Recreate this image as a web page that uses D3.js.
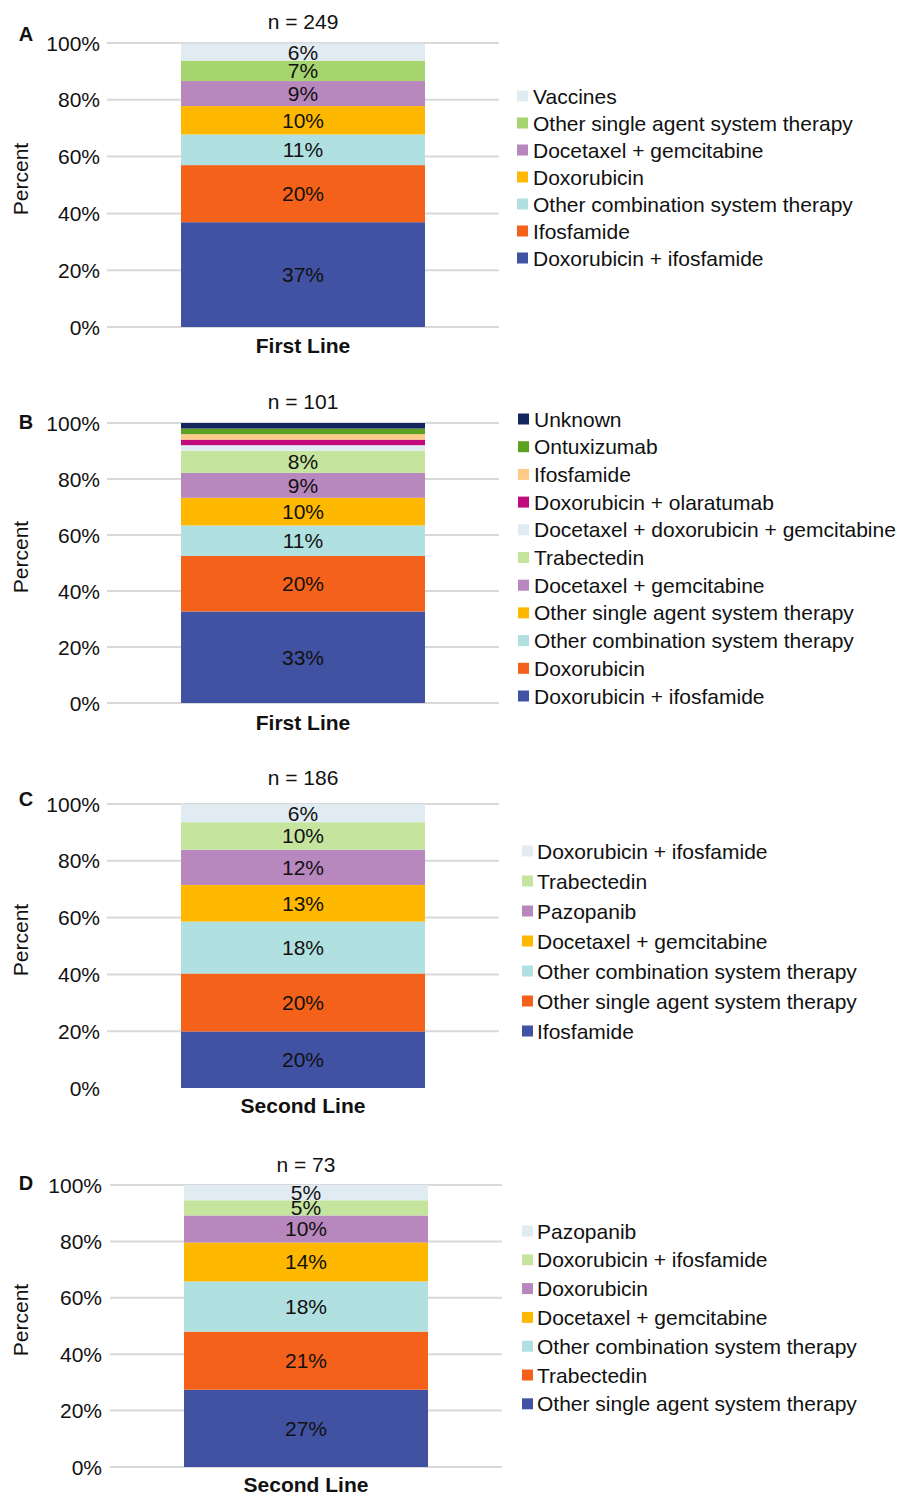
<!DOCTYPE html>
<html>
<head>
<meta charset="utf-8">
<script src="https://cdn.jsdelivr.net/npm/d3@7"></script>
<style>
  html, body { margin: 0; padding: 0; background: #fff; }
  svg text { font-family: "Liberation Sans", Arial, sans-serif; fill: #111; }
</style>
</head>
<body>
<svg id="chart" width="899" height="1495"></svg>
<script>
// Treatment shares (percent), listed from the bottom of each stacked bar upward.
const panelA_categories = ["Doxorubicin + ifosfamide", "Ifosfamide", "Other combination system therapy",
  "Doxorubicin", "Docetaxel + gemcitabine", "Other single agent system therapy", "Vaccines"];
const panelA_values = [36.9, 20.1, 10.8, 10.0, 8.8, 7.2, 6.0];
const panelA_colors = ["#4252a3", "#f4611a", "#b0e0df", "#ffb800", "#b887be", "#a6d46e", "#e1ecf2"];

const panelB_categories = ["Doxorubicin + ifosfamide", "Doxorubicin", "Other combination system therapy",
  "Other single agent system therapy", "Docetaxel + gemcitabine", "Trabectedin",
  "Docetaxel + doxorubicin + gemcitabine", "Doxorubicin + olaratumab", "Ifosfamide", "Ontuxizumab", "Unknown"];
const panelB_values = [32.7, 19.8, 10.9, 9.9, 8.9, 7.9, 1.98, 1.98, 1.98, 1.98, 1.98];
const panelB_colors = ["#4252a3", "#f4611a", "#b0e0df", "#ffb800", "#b887be", "#c5e59f",
  "#e1ecf2", "#c20a7c", "#fdca87", "#5da123", "#15255d"];

const panelC_categories = ["Ifosfamide", "Other single agent system therapy", "Other combination system therapy",
  "Docetaxel + gemcitabine", "Pazopanib", "Trabectedin", "Doxorubicin + ifosfamide"];
const panelC_values = [19.9, 20.4, 18.3, 12.9, 12.4, 9.7, 6.4];
const panelC_colors = ["#4252a3", "#f4611a", "#b0e0df", "#ffb800", "#b887be", "#c5e59f", "#e1ecf2"];

const panelD_categories = ["Other single agent system therapy", "Trabectedin", "Other combination system therapy",
  "Docetaxel + gemcitabine", "Doxorubicin", "Doxorubicin + ifosfamide", "Pazopanib"];
const panelD_values = [27.4, 20.6, 17.8, 13.8, 9.6, 5.4, 5.4];
const panelD_colors = ["#4252a3", "#f4611a", "#b0e0df", "#ffb800", "#b887be", "#c5e59f", "#e1ecf2"];

const panelLetters = ["A", "B", "C", "D"];
const sampleSizes = ["n = 249", "n = 101", "n = 186", "n = 73"];
const lineLabels = ["First Line", "First Line", "Second Line", "Second Line"];
const yTicks = [0, 20, 40, 60, 80, 100];

// Geometry for each panel
const layouts = [
  { y100: 43,   y0: 327,  gx0: 107, gx1: 499, bx0: 181, bx1: 425, tickX: 100, titleY: 21,   xlabY: 345,  letterY: 34,   legSq: 517, legTx: 533, legY: 96,   legStep: 27,   baseline: true },
  { y100: 423,  y0: 703,  gx0: 107, gx1: 499, bx0: 181, bx1: 425, tickX: 100, titleY: 401,  xlabY: 722,  letterY: 422,  legSq: 518, legTx: 534, legY: 419,  legStep: 27.7, baseline: true },
  { y100: 804,  y0: 1088, gx0: 107, gx1: 499, bx0: 181, bx1: 425, tickX: 100, titleY: 777,  xlabY: 1105, letterY: 799,  legSq: 522, legTx: 537, legY: 851,  legStep: 30,   baseline: false },
  { y100: 1185, y0: 1467, gx0: 110, gx1: 502, bx0: 184, bx1: 428, tickX: 102, titleY: 1164, xlabY: 1484, letterY: 1183, legSq: 522, legTx: 537, legY: 1231, legStep: 28.8, baseline: true }
];

const panels = [
  { cats: panelA_categories, vals: panelA_values, cols: panelA_colors },
  { cats: panelB_categories, vals: panelB_values, cols: panelB_colors },
  { cats: panelC_categories, vals: panelC_values, cols: panelC_colors },
  { cats: panelD_categories, vals: panelD_values, cols: panelD_colors }
];

const svg = d3.select("#chart");
const fontSize = 21;

panels.forEach((p, i) => {
  const L = layouts[i];
  const g = svg.append("g");
  const y = d3.scaleLinear().domain([0, 100]).range([L.y0, L.y100]);
  const x = d3.scaleBand().domain([lineLabels[i]]).range([L.gx0, L.gx1]);
  const barX = L.bx0, barW = L.bx1 - L.bx0;

  // gridlines
  g.selectAll("line.grid")
    .data(yTicks.filter(t => t > 0 || L.baseline))
    .join("line")
    .attr("x1", L.gx0).attr("x2", L.gx1)
    .attr("y1", d => y(d)).attr("y2", d => y(d))
    .attr("stroke", "#d9d9d9").attr("stroke-width", 2);

  // y tick labels
  g.selectAll("text.tick")
    .data(yTicks)
    .join("text")
    .attr("x", L.tickX).attr("y", d => y(d))
    .attr("text-anchor", "end").attr("dominant-baseline", "central")
    .attr("font-size", fontSize)
    .text(d => d + "%");

  // stacked segments
  const stackRow = {};
  p.cats.forEach((c, k) => stackRow[c] = p.vals[k]);
  const series = d3.stack().keys(p.cats)([stackRow]);
  const segs = series.map((s, k) => ({ key: s.key, y0: s[0][0], y1: s[0][1], v: p.vals[k], color: p.cols[k] }));

  g.selectAll("rect.seg")
    .data(segs)
    .join("rect")
    .attr("x", barX).attr("width", barW)
    .attr("y", d => y(d.y1))
    .attr("height", d => y(d.y0) - y(d.y1))
    .attr("fill", d => d.color);

  g.selectAll("text.val")
    .data(segs.filter(d => d.v >= 4))
    .join("text")
    .attr("x", barX + barW / 2)
    .attr("y", d => y((d.y0 + d.y1) / 2))
    .attr("text-anchor", "middle").attr("dominant-baseline", "central")
    .attr("font-size", fontSize)
    .text(d => Math.round(d.v) + "%");

  // title, axis label, panel letter
  const cx = barX + barW / 2;
  g.append("text").attr("x", cx).attr("y", L.titleY)
    .attr("text-anchor", "middle").attr("dominant-baseline", "central")
    .attr("font-size", fontSize).text(sampleSizes[i]);

  g.append("text").attr("x", cx).attr("y", L.xlabY)
    .attr("text-anchor", "middle").attr("dominant-baseline", "central")
    .attr("font-size", fontSize).attr("font-weight", "bold").text(x.domain()[0]);

  g.append("text").attr("x", 26).attr("y", L.letterY)
    .attr("text-anchor", "middle").attr("dominant-baseline", "central")
    .attr("font-size", 20).attr("font-weight", "bold").text(panelLetters[i]);

  g.append("text")
    .attr("transform", `translate(20,${(L.y0 + L.y100) / 2 - 6}) rotate(-90)`)
    .attr("text-anchor", "middle").attr("dominant-baseline", "central")
    .attr("font-size", fontSize).text("Percent");

  // legend, top segment first
  const legendItems = segs.slice().reverse();
  const lg = g.selectAll("g.leg")
    .data(legendItems)
    .join("g")
    .attr("transform", (d, k) => `translate(0,${L.legY + k * L.legStep})`);
  lg.append("rect")
    .attr("x", L.legSq).attr("y", -5.5).attr("width", 11).attr("height", 11)
    .attr("fill", d => d.color);
  lg.append("text")
    .attr("x", L.legTx).attr("y", 0)
    .attr("dominant-baseline", "central")
    .attr("font-size", fontSize)
    .text(d => d.key);
});
</script>
</body>
</html>
